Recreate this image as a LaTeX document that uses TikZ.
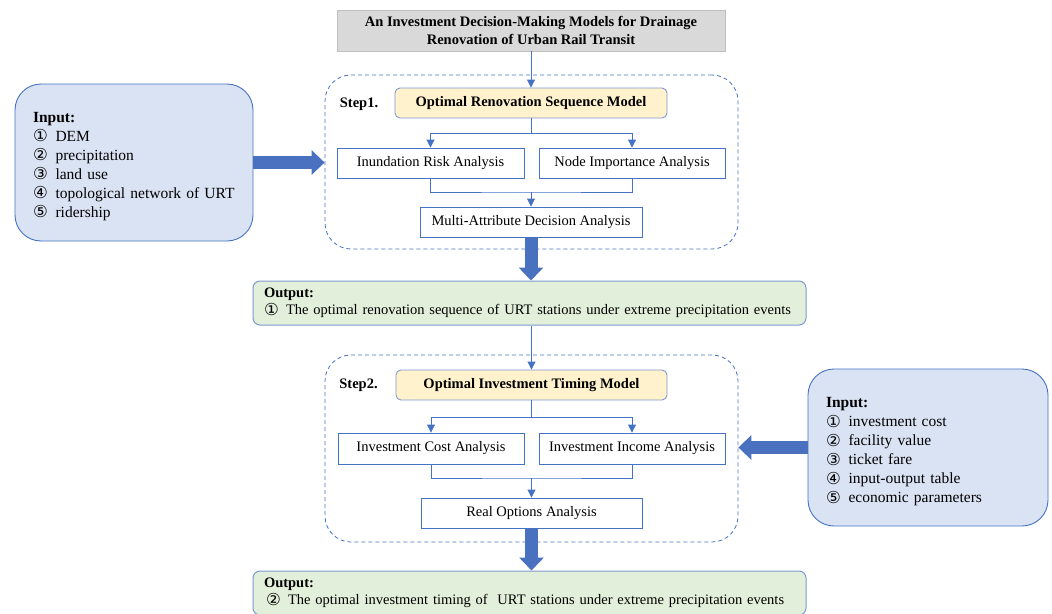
\documentclass[tikz,border=0pt]{standalone}
\usepackage{fontspec}
\setmainfont{Liberation Serif}
\newfontfamily\circfont{DejaVu Sans}
\usetikzlibrary{arrows.meta}
\definecolor{lblue}{HTML}{4472C4}
\definecolor{abblue}{HTML}{4A70C0}
\definecolor{infill}{HTML}{DAE3F3}
\definecolor{outfill}{HTML}{E2EFDA}
\definecolor{outline}{HTML}{7F9ACF}
\definecolor{modfill}{HTML}{FFF2CC}
\definecolor{modline}{HTML}{7F9ACF}
\definecolor{titfill}{HTML}{D9D9D9}
\definecolor{titline}{HTML}{BFBFBF}
\newcommand{\cn}[1]{\raisebox{-0.5pt}{\circfont\fontsize{16.5}{15}\selectfont #1}}
\begin{document}
\begin{tikzpicture}[x=1pt,y=-1pt,
  font=\fontsize{14.5}{17.4}\selectfont,
  tri/.tip={Triangle[width=8pt,length=8pt]},
  conn/.style={draw=lblue, line width=0.9pt},
  big/.style={draw=abblue, line width=13pt, -{Triangle[width=24pt,length=13pt]}},
  abox/.style={draw=lblue, line width=0.9pt, fill=white, inner sep=0pt},
  modbox/.style={draw=modline, line width=0.9pt, fill=modfill, rounded corners=5pt, inner sep=0pt, font=\fontsize{14.5}{17.4}\selectfont\bfseries},
  dashbox/.style={draw=lblue, line width=0.8pt, dashed, dash pattern=on 4pt off 3pt, rounded corners=26pt, inner sep=0pt},
  outbox/.style={draw=outline, line width=1pt, fill=outfill, rounded corners=7pt, inner xsep=11pt, inner ysep=0pt, align=left},
  inbox/.style={draw=lblue, line width=0.9pt, fill=infill, rounded corners=26pt, inner xsep=18pt, inner ysep=0pt, align=left, font=\fontsize{15.5}{19}\selectfont},
  titbox/.style={draw=titline, line width=0.8pt, fill=titfill, inner sep=0pt, align=center, font=\fontsize{14.5}{18}\selectfont\bfseries},
  steplbl/.style={font=\fontsize{14.5}{17.4}\selectfont\bfseries, inner sep=0pt}
]
\useasboundingbox (0,0) rectangle (1052,613);

% dashed step frames
\node[dashbox, minimum width=413pt, minimum height=174pt] (s1) at (531.5,162) {};
\node[dashbox, minimum width=413pt, minimum height=187pt] (s2) at (531.5,448.5) {};

% title
\node[titbox, minimum width=388pt, minimum height=41pt] (title) at (531,30.5)
  {An Investment Decision-Making Models for Drainage\\Renovation of Urban Rail Transit};

% step 1
\node[steplbl] (st1) at (359,104) {Step1.};
\node[modbox, minimum width=272pt, minimum height=30pt] (m1) at (531,103) {Optimal Renovation Sequence Model};
\node[abox, minimum width=187pt, minimum height=30pt] (ira) at (430.5,163) {Inundation Risk Analysis};
\node[abox, minimum width=186pt, minimum height=30pt] (nia) at (632,163) {Node Importance Analysis};
\node[abox, minimum width=222pt, minimum height=30pt] (mada) at (531,222) {Multi-Attribute Decision Analysis};

% output 1
\node[outbox, text width=531pt, minimum height=44pt] (out1) at (529.5,303)
  {\textbf{Output:}\\\cn{①}\enspace The optimal renovation sequence of URT stations under extreme precipitation events};

% step 2
\node[steplbl] (st2) at (358.5,385) {Step2.};
\node[modbox, minimum width=271pt, minimum height=30pt] (m2) at (531.5,385) {Optimal Investment Timing Model};
\node[abox, minimum width=186pt, minimum height=31pt] (ica) at (431,448.5) {Investment Cost Analysis};
\node[abox, minimum width=186pt, minimum height=31pt] (iia) at (632,448.5) {Investment Income Analysis};
\node[abox, minimum width=221pt, minimum height=30pt] (roa) at (531.5,513) {Real Options Analysis};

% output 2
\node[outbox, text width=531pt, minimum height=44pt] (out2) at (529.5,593)
  {\textbf{Output:}\\\hspace*{2pt}\cn{②}\enspace The optimal investment timing of\ \ URT stations under extreme precipitation events};

% inputs
\node[inbox, text width=202pt, minimum height=157pt] (in1) at (134,162.5)
  {\rule{0pt}{18pt}\textbf{Input:}\\\cn{①}\enspace DEM\\\cn{②}\enspace precipitation\\\cn{③}\enspace land use\\\cn{④}\enspace topological network of URT\\\cn{⑤}\enspace ridership};
\node[inbox, text width=204pt, minimum height=157pt] (in2) at (928,447.5)
  {\rule{0pt}{19pt}\textbf{Input:}\\\cn{①}\enspace investment cost\\\cn{②}\enspace facility value\\\cn{③}\enspace ticket fare\\\cn{④}\enspace input-output table\\\cn{⑤}\enspace economic parameters};

% junction coordinates
\coordinate (b1) at (531,133);
\coordinate (j1) at (531,192);
\coordinate (b2) at (531.5,417);
\coordinate (j2) at (531.5,478);

% thin connectors
\draw[conn,-tri] (title.south) -- (m1.north);
\draw[conn] (m1.south) -- (b1);
\draw[conn,-tri] (b1) -| (ira.north);
\draw[conn,-tri] (b1) -| (nia.north);
\draw[conn] (ira.south) |- (j1) -| (nia.south);
\draw[conn,-tri] (j1) -- (mada.north);

\draw[conn,-tri] (m2.north |- out1.south) -- (m2.north);
\draw[conn] (m2.south) -- (b2);
\draw[conn,-tri] (b2) -| (ica.north);
\draw[conn,-tri] (b2) -| (iia.north);
\draw[conn] (ica.south) |- (j2) -| (iia.south);
\draw[conn,-tri] (j2) -- (roa.north);

% thick arrows
\draw[big] (mada.south) -- (mada.south |- out1.north);
\draw[big] (roa.south) -- (roa.south |- out2.north);
\draw[big] (in1.east) -- (in1.east -| s1.west);
\draw[big] (in2.west) -- (in2.west -| s2.east);
\end{tikzpicture}
\end{document}
